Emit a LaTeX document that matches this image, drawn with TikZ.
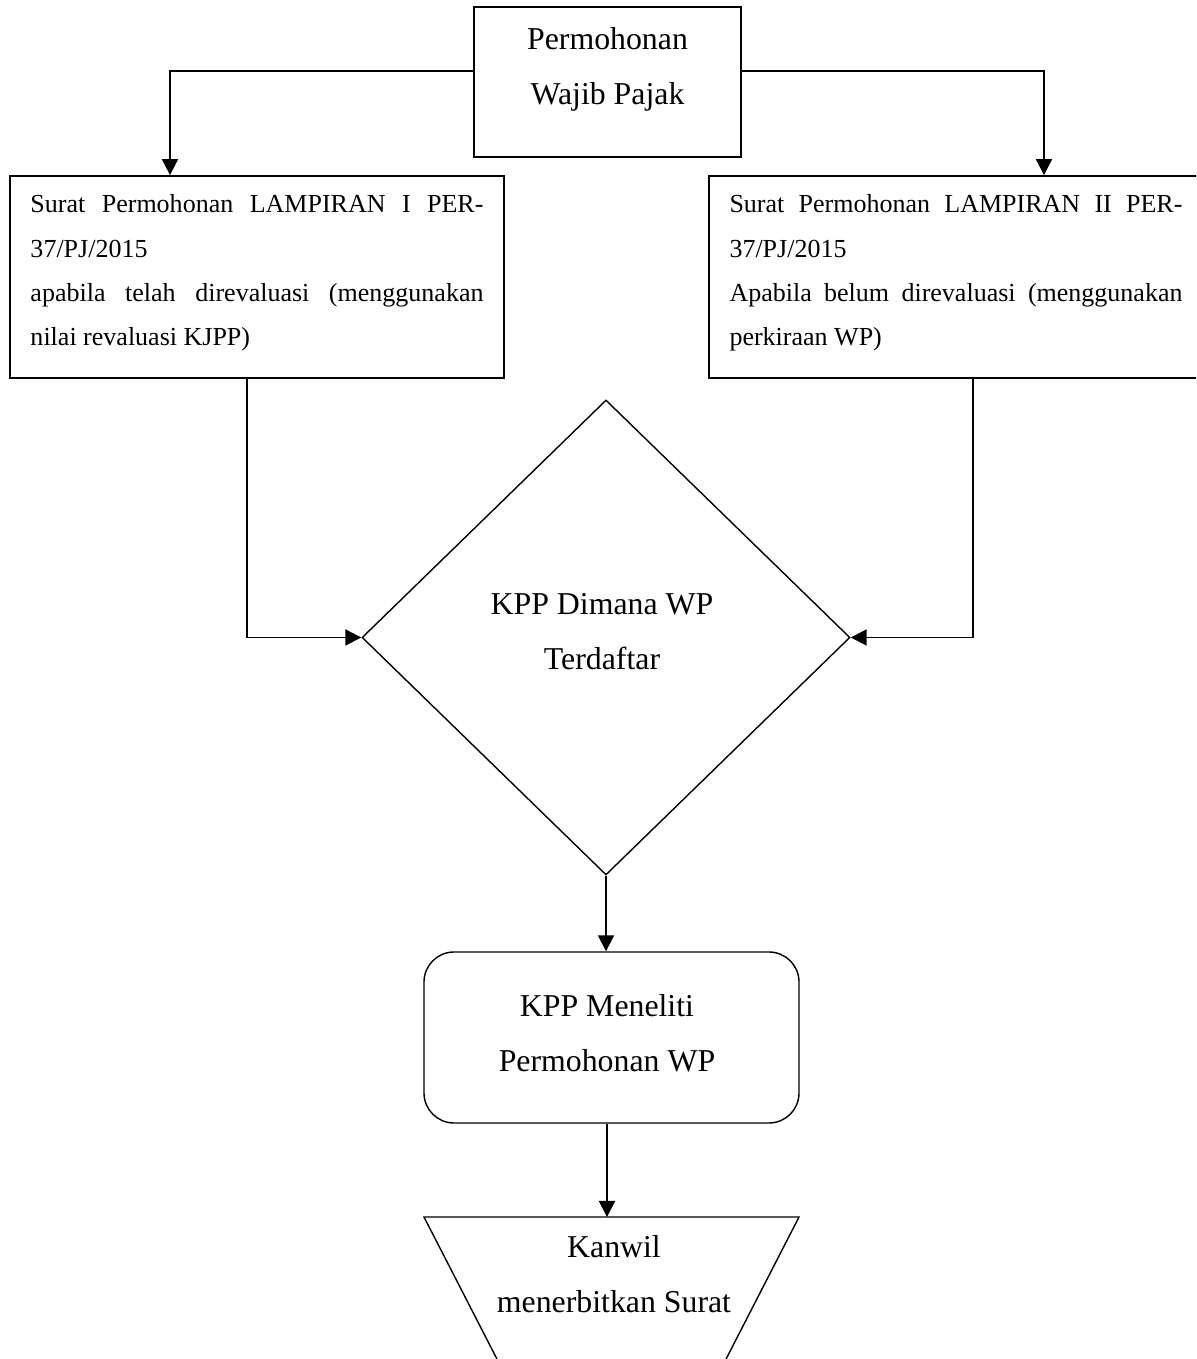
\documentclass[tikz,border=0pt]{standalone}
\usepackage{fontspec}
\setmainfont{Liberation Serif}
\usetikzlibrary{shapes.geometric, arrows.meta, positioning}

\begin{document}
\begin{tikzpicture}[
        x=0.2mm, y=0.2mm,
        wajib/.style={rectangle, draw=black, line width=1pt, minimum width=53.4mm, minimum height=30mm},
        lampiran/.style={rectangle, draw=black, line width=1pt, minimum width=98.8mm, minimum height=40.4mm},
        teks/.style={align=center, font=\fontsize{18.1}{31.3}\selectfont},
        tekslampiran/.style={text width=90.6mm, align=justify, inner sep=0pt, font=\fontsize{14.8}{25.3}\selectfont},
        keputusan/.style={diamond, draw=black, line width=0.8pt, minimum width=97.6mm, minimum height=95mm, inner sep=0pt},
        proses/.style={rectangle, draw=black, line width=0.8pt, rounded corners=6mm, minimum width=75mm, minimum height=34.2mm},
        kanwil/.style={draw=black, line width=0.8pt},
        arrow/.style={-{Triangle[length=3.2mm, width=3.2mm]}, line width=1.1pt}
    ]
    \useasboundingbox (0,0) rectangle (1196,1359);
    \clip (0,0) rectangle (1196,1359);

    \node (wajib_node) [wajib] at (607.5,1277) {};
    \node (wajib_text) [teks] at (607.5,1290) {Permohonan\\Wajib Pajak};

    \node (lampiran1_node) [lampiran] at (257,1082) {};
    \node (lampiran1_text) [tekslampiran] at (257,1086) {Surat Permohonan LAMPIRAN I PER-\linebreak 37/PJ/2015\\ apabila telah direvaluasi (menggunakan\linebreak nilai revaluasi KJPP)};

    \node (lampiran2_node) [lampiran] at (956,1082) {};
    \node (lampiran2_text) [tekslampiran] at (956,1086) {Surat Permohonan LAMPIRAN II PER-\linebreak 37/PJ/2015\\ Apabila belum direvaluasi (menggunakan\linebreak perkiraan WP)};

    \node (kpp_node) [keputusan] at (606,721.5) {};
    \node (kpp_text) [teks] at (602,727) {KPP Dimana WP\\Terdaftar};

    \node (meneliti_node) [proses] at (611.5,321.5) {};
    \node (meneliti_text) [teks] at (607,326) {KPP Meneliti\\Permohonan WP};

    \draw [kanwil] (424,142) -- (799,142) -- (705,-41) -- (518,-41) -- cycle;
    \coordinate (kanwil_atas) at (607,142);
    \node (kanwil_text) [teks] at (614,85) {Kanwil\\menerbitkan Surat};

    \coordinate (kiri_belok) at (170,1288);
    \coordinate (kanan_belok) at (1044,1288);
    \coordinate (kiri_masuk) at (247,721.5);
    \coordinate (kanan_masuk) at (973,721.5);

    \draw [arrow] (wajib_node.west |- kiri_belok) -- (kiri_belok) -- (kiri_belok |- lampiran1_node.north);
    \draw [arrow] (wajib_node.east |- kanan_belok) -- (kanan_belok) -- (kanan_belok |- lampiran2_node.north);
    \draw [arrow] (lampiran1_node.south -| kiri_masuk) -- (kiri_masuk) -- (kpp_node.west);
    \draw [arrow] (lampiran2_node.south -| kanan_masuk) -- (kanan_masuk) -- (kpp_node.east);
    \draw [arrow] (kpp_node.south) -- (kpp_node.south |- meneliti_node.north);
    \draw [arrow] (meneliti_node.south -| kanwil_atas) -- (kanwil_atas);

    \end{tikzpicture}
\end{document}
